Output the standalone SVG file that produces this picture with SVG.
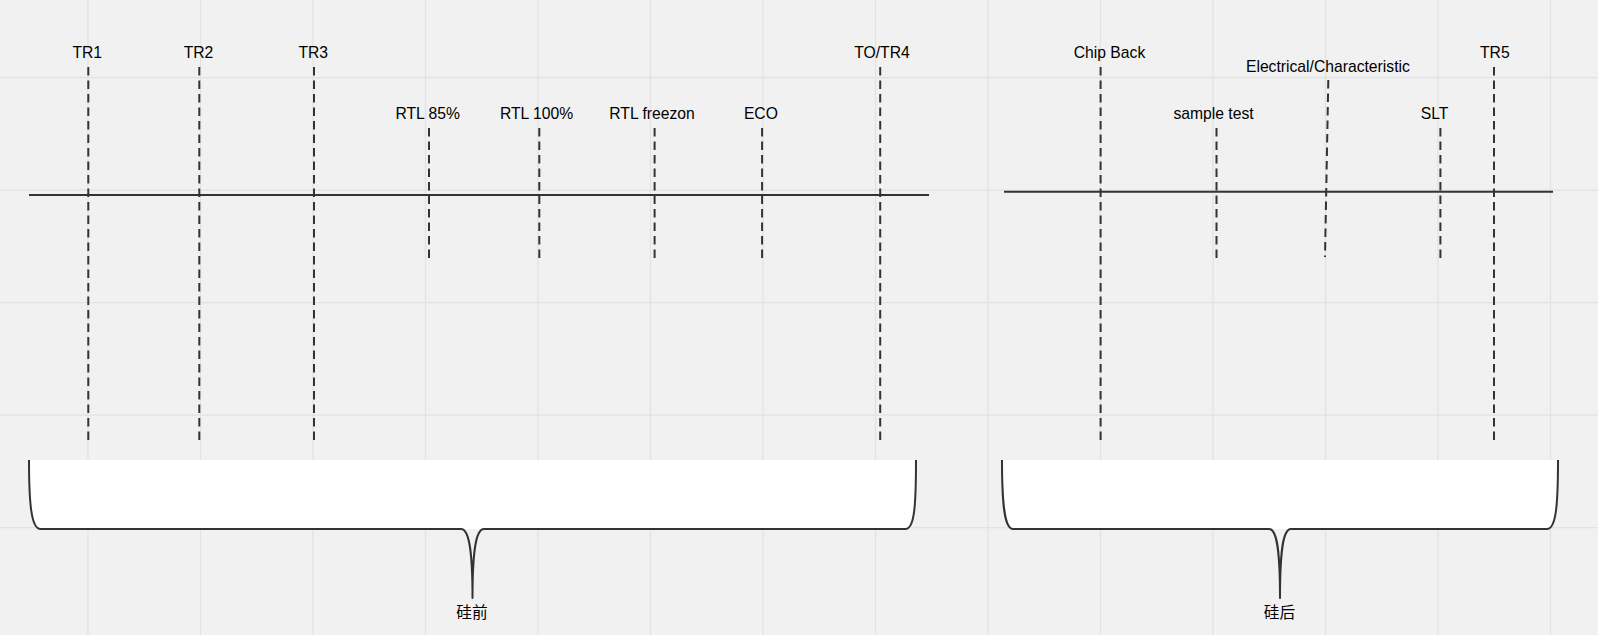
<svg xmlns="http://www.w3.org/2000/svg" width="1598" height="635" viewBox="0 0 1598 635">
<style>
.grid line{stroke:#e2e2e2;stroke-width:1.2}
.axis{stroke:#333;stroke-width:2;fill:none}
.dash{stroke:#333;stroke-width:2;stroke-dasharray:8.5 5;fill:none}
.brace-fill{fill:#fff;stroke:none}
.brace{fill:none;stroke:#333;stroke-width:2;stroke-linejoin:round}
text{font-family:"Liberation Sans",Arial,"Noto Sans CJK SC",sans-serif;font-size:15.7px;fill:#000;text-anchor:middle}
</style>
<rect width="1598" height="635" fill="#f1f1f1"/>
<g class="grid">
<line x1="88" y1="0" x2="88" y2="635"/>
<line x1="200.5" y1="0" x2="200.5" y2="635"/>
<line x1="313" y1="0" x2="313" y2="635"/>
<line x1="425.5" y1="0" x2="425.5" y2="635"/>
<line x1="538" y1="0" x2="538" y2="635"/>
<line x1="650.5" y1="0" x2="650.5" y2="635"/>
<line x1="763" y1="0" x2="763" y2="635"/>
<line x1="875.5" y1="0" x2="875.5" y2="635"/>
<line x1="988" y1="0" x2="988" y2="635"/>
<line x1="1100.5" y1="0" x2="1100.5" y2="635"/>
<line x1="1213" y1="0" x2="1213" y2="635"/>
<line x1="1325.5" y1="0" x2="1325.5" y2="635"/>
<line x1="1438" y1="0" x2="1438" y2="635"/>
<line x1="1550.5" y1="0" x2="1550.5" y2="635"/>
<line x1="0" y1="77.7" x2="1598" y2="77.7"/>
<line x1="0" y1="190.2" x2="1598" y2="190.2"/>
<line x1="0" y1="302.7" x2="1598" y2="302.7"/>
<line x1="0" y1="415.2" x2="1598" y2="415.2"/>
<line x1="0" y1="527.7" x2="1598" y2="527.7"/>
</g>
<g id="braces">
<g id="brace-pre">
<path class="brace-fill" d="M29,460 C29,505 31.5,529 40.5,529 L905.5,529 C914.5,529 916,505 916,460 Z"/>
<path class="brace" d="M29,460 C29,505 31.5,529 40.5,529 L461,529 C469,529 472.5,550 472.5,598 C472.5,550 476,529 484,529 L905.5,529 C914.5,529 916,505 916,460"/>
<text x="472" y="618">硅前</text>
</g>
<g id="brace-post">
<path class="brace-fill" d="M1002,460 C1002,505 1004.5,529 1013,529 L1547,529 C1556,529 1558,505 1558,460 Z"/>
<path class="brace" d="M1002,460 C1002,505 1004.5,529 1013,529 L1269,529 C1277,529 1280,550 1280,598 C1280,550 1283,529 1291,529 L1547,529 C1556,529 1558,505 1558,460"/>
<text x="1279.5" y="618">硅后</text>
</g>
</g>
<g id="connectors">
<line class="axis" x1="29" y1="195" x2="929" y2="195"/>
<line class="axis" x1="1004" y1="191.7" x2="1553" y2="191.7"/>
<line class="dash" x1="88.3" y1="67" x2="88.3" y2="440"/>
<line class="dash" x1="199.3" y1="67" x2="199.3" y2="440"/>
<line class="dash" x1="314" y1="67" x2="314" y2="440"/>
<line class="dash" x1="429" y1="128" x2="429" y2="258"/>
<line class="dash" x1="539.3" y1="128" x2="539.3" y2="258"/>
<line class="dash" x1="654.6" y1="128" x2="654.6" y2="258"/>
<line class="dash" x1="762.1" y1="128" x2="762.1" y2="258"/>
<line class="dash" x1="880.2" y1="67" x2="880.2" y2="440"/>
<line class="dash" x1="1100.6" y1="67" x2="1100.6" y2="440"/>
<line class="dash" x1="1216.5" y1="128" x2="1216.5" y2="258"/>
<line class="dash" x1="1328.3" y1="80" x2="1325" y2="257"/>
<line class="dash" x1="1440.4" y1="128" x2="1440.4" y2="258"/>
<line class="dash" x1="1494" y1="67" x2="1494" y2="440"/>
</g>
<g id="labels">
<g id="n-tr1"><text x="87.2" y="58.3">TR1</text></g>
<g id="n-tr2"><text x="198.5" y="58.3">TR2</text></g>
<g id="n-tr3"><text x="313.2" y="58.3">TR3</text></g>
<g id="n-rtl85"><text x="427.7" y="119.3">RTL 85%</text></g>
<g id="n-rtl100"><text x="536.6" y="119.3">RTL 100%</text></g>
<g id="n-rtlfreeze"><text x="652" y="119.3">RTL freezon</text></g>
<g id="n-eco"><text x="760.9" y="119.3">ECO</text></g>
<g id="n-tr4"><text x="882" y="58.3">TO/TR4</text></g>
<g id="n-chipback"><text x="1109.5" y="58.3">Chip Back</text></g>
<g id="n-sample"><text x="1213.5" y="119.3">sample test</text></g>
<g id="n-elec"><text x="1327.9" y="71.7">Electrical/Characteristic</text></g>
<g id="n-slt"><text x="1434.5" y="119.3">SLT</text></g>
<g id="n-tr5"><text x="1494.8" y="58.3">TR5</text></g>
</g>
</svg>
